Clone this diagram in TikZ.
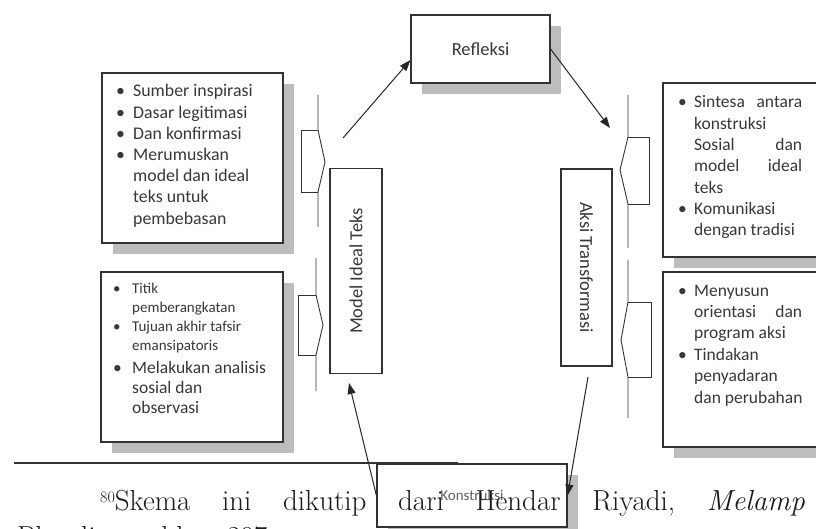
\documentclass[tikz,border=0pt]{standalone}
\usepackage{fontspec}
\newfontfamily\cfont{Carlito}
\usetikzlibrary{arrows.meta,shadows}
\definecolor{shd}{HTML}{BDBDBD}
\definecolor{bord}{HTML}{333333}
\definecolor{txt}{HTML}{383838}
\newlength\bi
\newcommand\bl[1]{\leavevmode\makebox[\bi][l]{\textbullet}#1\par}
\newcommand\cl[1]{\leavevmode\hspace*{\bi}#1\par}
\newcommand\jl[2]{\makebox[108pt][s]{#1\hfill #2}}
\begin{document}
\begin{tikzpicture}[x=1pt,y=-1pt,
  box/.style={draw=bord, line width=1.2pt, fill=white, inner sep=0pt},
  shbox/.style={box, drop shadow={shadow xshift=11pt, shadow yshift=-11pt, fill=shd, opacity=1}},
  lbl/.style={font=\cfont\fontsize{18.5}{22}\selectfont, text=txt},
  arr/.style={draw=black!85, line width=1pt, -{Triangle[length=11pt,width=8pt]}},
  brk/.style={draw=black!80, line width=0.9pt, line join=miter},
  blist/.style={anchor=base west, inner sep=0pt, text=txt, font=\cfont},
  fn/.style={anchor=base west, inner sep=0pt, text=black!90, font=\fontsize{29}{34}\selectfont}]
\useasboundingbox (0,0) rectangle (816,529);
\clip (0,0) rectangle (816,529);

% boxes
\node[shbox, minimum width=139pt, minimum height=68pt, lbl] (refl) at (480.5,49) {Refleksi};
\node[shbox, minimum width=181pt, minimum height=170pt] (ltbox) at (192.5,158) {};
\node[shbox, minimum width=182pt, minimum height=170pt] (lbbox) at (192,357) {};
\node[shbox, minimum width=177pt, minimum height=174pt] (rtbox) at (751.5,170) {};
\node[shbox, minimum width=177pt, minimum height=175pt] (rbbox) at (751.5,359.5) {};
\node[box, rotate=90, minimum width=205pt, minimum height=52pt, lbl] (model) at (356,271) {Model Ideal Teks};
\node[box, rotate=-90, minimum width=197pt, minimum height=51pt, lbl] (aksi) at (586.5,267.5) {Aksi Transformasi};
\node[shbox, minimum width=190pt, minimum height=63pt, font=\cfont\fontsize{15}{18}\selectfont, text=txt!80] (konst) at (472,495.5) {Konstruksi};

% box texts
\node[blist] (ltx) at (116,97) {\vtop{\hsize=220pt\parindent=0pt\parskip=0pt\bi=17pt\fontsize{17.8}{21.2}\selectfont
\bl{Sumber inspirasi}
\bl{Dasar legitimasi}
\bl{Dan konfirmasi}
\bl{Merumuskan}
\cl{model dan ideal}
\cl{teks untuk}
\cl{pembebasan}}};

\node[blist] (lbx) at (113,294) {\vtop{\hsize=220pt\parindent=0pt\parskip=0pt\bi=19pt\fontsize{15}{18.7}\selectfont
\bl{Titik}
\cl{pemberangkatan}
\bl{Tujuan akhir tafsir}
\cl{emansipatoris}
\fontsize{17.5}{20}\selectfont\vspace{3.3pt}
\bl{Melakukan analisis}
\cl{sosial dan}
\cl{observasi}}};

\node[blist] (rtx) at (678,108) {\vtop{\hsize=220pt\parindent=0pt\parskip=0pt\bi=16pt\fontsize{17.5}{21.3}\selectfont
\bl{\jl{Sintesa}{antara}}
\cl{konstruksi}
\cl{\jl{Sosial}{dan}}
\cl{\jl{model}{ideal}}
\cl{teks}
\bl{Komunikasi}
\cl{dengan tradisi}}};

\node[blist] (rbx) at (678,296) {\vtop{\hsize=220pt\parindent=0pt\parskip=0pt\bi=16pt\fontsize{17.5}{21.4}\selectfont
\bl{Menyusun}
\cl{\jl{orientasi}{dan}}
\cl{program aksi}
\bl{Tindakan}
\cl{penyadaran}
\cl{dan perubahan}}};

% bracket callouts
\draw[brk] (318,95) -- (318,130) -- (325,162) -- (318,192) -- (318,227);
\draw[brk] (318,130) -- (301,130) -- (301,192) -- (318,192);
\draw[brk] (316,258) -- (316,295) -- (323,325) -- (316,355) -- (316,391);
\draw[brk] (316,295) -- (298,295) -- (298,355) -- (316,355);
\draw[brk] (628,95) -- (628,137) -- (620,170) -- (628,204) -- (628,248);
\draw[brk] (628,137) -- (649,137) -- (649,204) -- (628,204);
\draw[brk] (628,260) -- (628,302) -- (621,340) -- (628,377) -- (628,418);
\draw[brk] (628,302) -- (651,302) -- (651,377) -- (628,377);

% connectors
\coordinate (a1s) at (343,138);
\coordinate (a2e) at (610,128);
\coordinate (a3s) at (588,377);
\coordinate (a4e) at (349,383);
\draw[arr] (a1s) -- (refl.189);
\draw[arr] (refl.east) -- (a2e);
\draw[arr] (a3s) -- (konst.east);
\draw[arr] (konst.west) -- (a4e);

% footnote
\draw[line width=2pt, draw=black!80] (14,463) -- (458,463);
\node[fn] (fn1) at (100,510) {\raisebox{8pt}{\fontsize{16}{16}\selectfont 80}\hbox to 592pt{Skema\hfill ini\hfill dikutip\hfill dari\hfill Hendar\hfill Riyadi,\hfill}\textit{Melamp}};
\node[fn] (fn2) at (17,546) {\hbox to 250pt{Pluralisme,\hfill hlm.\hfill 297}};
\end{tikzpicture}
\end{document}
